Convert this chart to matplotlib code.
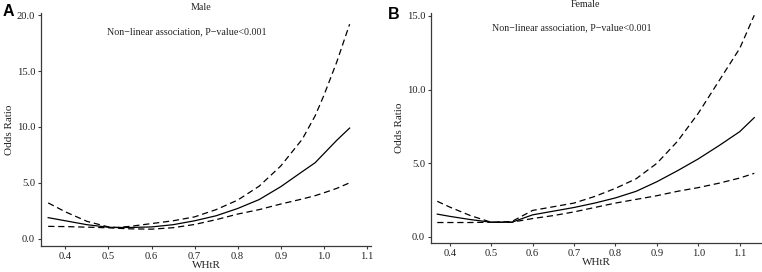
import numpy as np
import matplotlib
matplotlib.use('Agg')
import matplotlib.pyplot as plt

plt.rcParams['font.family'] = ['Liberation Serif', 'DejaVu Serif']

# Male panel (A)
male_x = [0.36, 0.40, 0.45, 0.50, 0.52, 0.55, 0.60, 0.65, 0.70, 0.75, 0.80,
          0.85, 0.90, 0.95, 0.98, 1.00, 1.03, 1.06]
male_or = [1.88, 1.6, 1.25, 1.02, 1.0, 1.0, 1.05, 1.25, 1.6, 2.05, 2.7,
           3.5, 4.65, 6.0, 6.8, 7.6, 8.8, 9.9]
male_upper = [3.2, 2.4, 1.55, 1.05, 1.0, 1.1, 1.35, 1.6, 1.95, 2.6, 3.45,
              4.7, 6.5, 8.9, 11.0, 12.8, 15.8, 19.2]
male_lower = [1.1, 1.08, 1.03, 0.97, 0.93, 0.88, 0.85, 0.98, 1.27, 1.7, 2.2,
              2.6, 3.1, 3.55, 3.85, 4.1, 4.5, 5.0]

# Female panel (B)
female_x = [0.37, 0.40, 0.45, 0.50, 0.55, 0.60, 0.65, 0.70, 0.75, 0.80, 0.85,
            0.90, 0.95, 1.00, 1.05, 1.10, 1.135]
female_or = [1.55, 1.4, 1.18, 1.0, 1.0, 1.5, 1.75, 2.0, 2.3, 2.65, 3.1,
             3.75, 4.5, 5.3, 6.2, 7.15, 8.1]
female_upper = [2.42, 2.03, 1.45, 1.0, 1.05, 1.8, 2.05, 2.3, 2.75, 3.3, 3.95,
                5.0, 6.5, 8.4, 10.6, 12.8, 15.05]
female_lower = [0.98, 0.98, 0.98, 1.0, 1.0, 1.25, 1.45, 1.7, 2.0, 2.3, 2.55,
                2.8, 3.1, 3.35, 3.65, 4.0, 4.32]

x_ticks = [0.4, 0.5, 0.6, 0.7, 0.8, 0.9, 1.0, 1.1]
note = 'Non\u2212linear association, P\u2212value<0.001'

AX_COLOR = '#3a3a3a'
TXT_COLOR = '#222222'


def draw_panel(ax, x, est, upper, lower, yticks, xlim, ylim):
    ax.plot(x, est, color='black', lw=0.9)
    for band in (upper, lower):
        ax.plot(x, band, color='black', lw=0.9, dashes=(5, 3))
    ax.set_xlim(*xlim)
    ax.set_ylim(*ylim)
    ax.set_xticks(x_ticks)
    ax.set_xticklabels(['%.1f' % t for t in x_ticks])
    ax.set_yticks(yticks)
    ax.set_yticklabels(['%.1f' % t for t in yticks])
    for side in ('top', 'right'):
        ax.spines[side].set_visible(False)
    for side in ('left', 'bottom'):
        ax.spines[side].set_color(AX_COLOR)
        ax.spines[side].set_linewidth(0.9)
    ax.tick_params(length=2.5, width=0.8, color=AX_COLOR, labelsize=7.6,
                   labelcolor=TXT_COLOR, pad=2)
    ax.set_xlabel('WHtR', fontsize=8, color=TXT_COLOR, labelpad=0)
    ax.set_ylabel('Odds Ratio', fontsize=8, color=TXT_COLOR, labelpad=2)


fig = plt.figure(figsize=(7.62, 2.72), dpi=100)

ax_a = fig.add_axes([0.0542, 0.0967, 0.4323, 0.8555])
draw_panel(ax_a, male_x, male_or, male_upper, male_lower,
           [0, 5, 10, 15, 20], (0.344, 1.109), (-0.63, 20.2))
ax_b = fig.add_axes([0.566, 0.1077, 0.4331, 0.8434])
draw_panel(ax_b, female_x, female_or, female_upper, female_lower,
           [0, 5, 10, 15], (0.3556, 1.152), (-0.39, 15.18))

fig.text(201 / 762, 1 - 7 / 272, 'Male', ha='center', va='center',
         fontsize=7.2, color=TXT_COLOR)
fig.text(187 / 762, 1 - 32 / 272, note, ha='center', va='center',
         fontsize=7.2, color=TXT_COLOR)
fig.text(585 / 762, 1 - 4.5 / 272, 'Female', ha='center', va='center',
         fontsize=7.2, color=TXT_COLOR)
fig.text(572 / 762, 1 - 28 / 272, note, ha='center', va='center',
         fontsize=7.2, color=TXT_COLOR)

fig.text(8 / 762, 1 - 11.5 / 272, 'A', ha='center', va='center',
         fontsize=11.5, fontweight='bold', family='Liberation Sans')
fig.text(394 / 762, 1 - 14.5 / 272, 'B', ha='center', va='center',
         fontsize=11.5, fontweight='bold', family='Liberation Sans')

fig.savefig('out.png', dpi=100)
